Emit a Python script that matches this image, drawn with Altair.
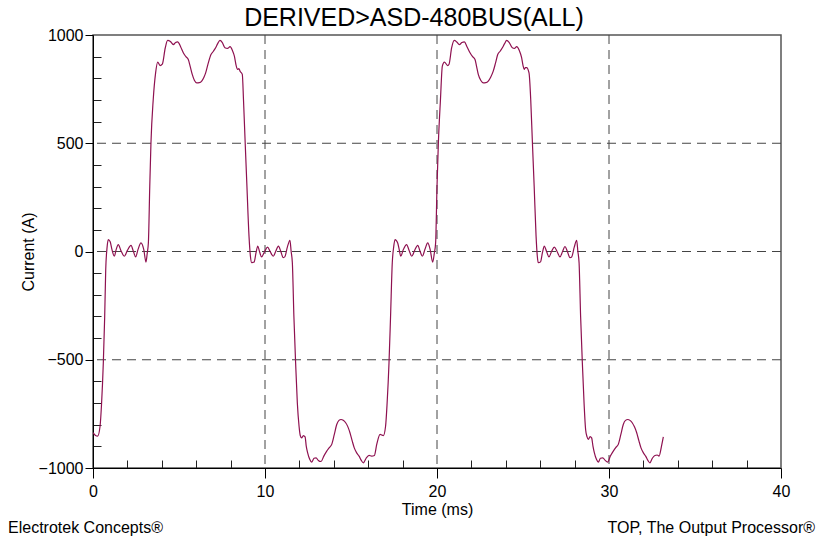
import altair as alt
import pandas as pd

# ---------------- data ----------------
t_ms = [
    0.0, 0.15, 0.27, 0.41, 0.5, 0.6, 0.68, 0.74, 0.82, 0.89, 1.0, 1.1, 1.24, 1.35, 1.47, 1.62,
    1.82, 2.0, 2.21, 2.35, 2.48, 2.62, 2.79, 2.95, 3.08, 3.15, 3.22, 3.3, 3.37, 3.5, 3.64, 3.76,
    3.9, 4.03, 4.2, 4.34, 4.5, 4.67, 4.8, 4.92, 5.1, 5.25, 5.4, 5.54, 5.65, 5.77, 5.9, 6.03,
    6.18, 6.32, 6.45, 6.55, 6.7, 6.86, 7.0, 7.13, 7.25, 7.38, 7.52, 7.67, 7.82, 7.97, 8.1, 8.22,
    8.32, 8.41, 8.48, 8.55, 8.68, 8.75, 8.84, 8.95, 9.07, 9.15, 9.23, 9.3, 9.37, 9.48, 9.58, 9.68,
    9.8, 9.98, 10.15, 10.3, 10.48, 10.62, 10.78, 10.92, 11.06, 11.15, 11.3, 11.45, 11.52, 11.59,
    11.68, 11.78, 11.88, 11.98, 12.05, 12.13, 12.23, 12.33, 12.4, 12.48, 12.6, 12.71, 12.85,
    12.97, 13.1, 13.26, 13.42, 13.59, 13.75, 13.88, 14.03, 14.17, 14.3, 14.42, 14.55, 14.69,
    14.82, 14.94, 15.07, 15.19, 15.33, 15.47, 15.6, 15.72, 15.88, 16.05, 16.2, 16.36, 16.5,
    16.69, 16.88, 17.01, 17.1, 17.21, 17.3, 17.4, 17.48, 17.56, 17.71, 17.8, 17.89, 18.05,
    18.23, 18.38, 18.53, 18.7, 18.88, 19.02, 19.15, 19.3, 19.46, 19.6, 19.75, 19.84, 19.92,
    20.0, 20.08, 20.2, 20.31, 20.43, 20.62, 20.7, 20.85, 21.0, 21.15, 21.3, 21.45, 21.59,
    21.75, 21.92, 22.07, 22.21, 22.3, 22.4, 22.55, 22.69, 22.84, 22.98, 23.12, 23.27, 23.4,
    23.53, 23.67, 23.8, 23.93, 24.05, 24.2, 24.38, 24.5, 24.63, 24.78, 24.92, 25.0, 25.07,
    25.14, 25.21, 25.35, 25.45, 25.54, 25.65, 25.76, 25.83, 25.89, 26.02, 26.13, 26.24, 26.37,
    26.51, 26.66, 26.82, 26.98, 27.15, 27.3, 27.44, 27.58, 27.73, 27.83, 27.98, 28.12, 28.19,
    28.26, 28.35, 28.45, 28.55, 28.64, 28.72, 28.8, 28.9, 28.99, 29.07, 29.15, 29.27, 29.38,
    29.5, 29.64, 29.78, 29.92, 30.08, 30.25, 30.4, 30.54, 30.69, 30.83, 30.96, 31.09, 31.22,
    31.35, 31.48, 31.61, 31.74, 31.86, 32.0, 32.13, 32.26, 32.38, 32.52, 32.67, 32.8, 32.91,
    33.05, 33.16,
]
current_a = [
    -837, -850, -853, -807, -700, -514, -300, -83, 20, 55, 45, 10, -22, 10, 32, 5,
    -22, 5, 28, 0, -25, 10, 40, 10, -49, -10, 40, 300, 502, 700, 825, 875,
    859, 865, 940, 975, 970, 956, 965, 968, 945, 918, 900, 887, 855, 818, 790, 779,
    780, 787, 805, 825, 870, 910, 925, 941, 960, 975, 965, 941, 938, 946, 930, 902,
    860, 841, 845, 833, 818, 700, 517, 300, 71, -20, -52, -50, -48, -5, 25, 0,
    -25, 0, 20, 0, -22, 0, 25, 0, -28, -25, 20, 52, 0, -52,
    -300, -514, -700, -807, -850, -861, -850, -856, -900, -930, -960, -973, -955,
    -953, -965, -970, -945, -922, -905, -891, -845, -799, -780, -776, -780, -791,
    -810, -837, -875, -907, -930, -945, -965, -976, -955, -942, -945, -942, -890,
    -845, -850, -807, -700, -514, -300, -52, 20, 55, 40, 10, -22, 10,
    32, 5, -22, 5, 28, 0, -22, 10, 40, 10, -49, -10, 40,
    300, 502, 700, 856, 875, 859, 865, 940, 975, 968, 956, 965, 968,
    945, 918, 900, 887, 855, 818, 790, 779, 780, 787, 805, 833, 870,
    910, 925, 941, 960, 975, 965, 941, 938, 946, 930, 895, 860, 841,
    849, 849, 825, 700, 517, 300, 71, -20, -52, -48, -5, 25, 0,
    -25, 0, 20, 0, -25, 0, 23, 0, -28, -25, 20, 52, 0,
    -52, -300, -514, -700, -822, -855, -868, -855, -861, -900, -930, -960, -973,
    -955, -953, -965, -973, -945, -922, -905, -891, -845, -799, -780, -776, -780,
    -791, -810, -837, -875, -907, -930, -945, -965, -976, -955, -942, -940, -945,
    -900, -856,
]

x_major = [0, 10, 20, 30, 40]
y_major = [-1000, -500, 0, 500, 1000]
x_grid = [10, 20, 30]
y_grid = [-500, 0, 500]
x_minor = [2, 4, 6, 8, 12, 14, 16, 18, 22, 24, 26, 28, 32, 34, 36, 38]
y_minor = [-900, -800, -700, -600, -400, -300, -200, -100,
           100, 200, 300, 400, 600, 700, 800, 900]

title_text = "DERIVED>ASD-480BUS(ALL)"
x_title = "Time (ms)"
y_title = "Current (A)"
footer_left = ["Electrotek Concepts®"]
footer_right = ["TOP, The Output Processor®"]

FONT = "Liberation Sans"
W, H = 688, 433

df = pd.DataFrame({"t": t_ms, "i": current_a})
xs = alt.Scale(domain=[0, 40], nice=False, zero=False)
ys = alt.Scale(domain=[-1000, 1000], nice=False, zero=False)

line = alt.Chart(df).mark_line(color="#8e1150", strokeWidth=1.2, interpolate="monotone", clip=True).encode(
    x=alt.X("t:Q", scale=xs, axis=alt.Axis(
        orient="bottom", values=x_major, tickSize=10, tickColor="black", domainColor="black",
        labelFontSize=16, labelFont=FONT, labelColor="black", labelPadding=5, labelFlush=False,
        title=x_title, titleFont=FONT, titleFontSize=16, titleFontWeight="normal",
        titleColor="black", titlePadding=2, grid=False, format="d")),
    y=alt.Y("i:Q", scale=ys, axis=alt.Axis(
        orient="left", values=y_major, tickSize=8, tickColor="black", domainColor="black",
        labelFontSize=16, labelFont=FONT, labelColor="black", labelPadding=2, labelFlush=False,
        title=y_title, titleFont=FONT, titleFontSize=16, titleFontWeight="normal",
        titleColor="black", titlePadding=2, grid=False, format="d")),
)

vgrid = alt.Chart(pd.DataFrame({"g": x_grid})).mark_rule(
    color="#444", strokeWidth=1, strokeDash=[9, 6]).encode(
    x=alt.X("g:Q", scale=xs, axis=alt.Axis(
        orient="top", offset=-H, values=x_minor, tickSize=8, tickColor="#222",
        labels=False, domain=False, grid=False, title=None)),
)

hgrid = alt.Chart(pd.DataFrame({"g": y_grid})).mark_rule(
    color="#444", strokeWidth=1, strokeDash=[9, 6]).encode(
    y=alt.Y("g:Q", scale=ys, axis=alt.Axis(
        orient="right", offset=-W, values=y_minor, tickSize=8, tickColor="#222",
        labels=False, domain=False, grid=False, title=None)),
)

foot_l = alt.Chart(pd.DataFrame({"s": footer_left})).mark_text(
    align="left", baseline="alphabetic", font=FONT, fontSize=16, color="black").encode(
    text="s:N", x=alt.value(-85), y=alt.value(H + 65))

foot_r = alt.Chart(pd.DataFrame({"s": footer_right})).mark_text(
    align="right", baseline="alphabetic", font=FONT, fontSize=16, color="black").encode(
    text="s:N", x=alt.value(W + 34), y=alt.value(H + 65))

chart = alt.layer(vgrid, hgrid, line, foot_l, foot_r).resolve_axis(
    x="independent", y="independent"
).properties(
    width=W, height=H,
    title=alt.TitleParams(title_text, font=FONT, fontSize=25, fontWeight="normal",
                          color="black", anchor="middle", dx=-23, dy=7, offset=3),
    autosize=alt.AutoSizeParams(type="none"),
    padding={"left": 93, "top": 35, "right": 47, "bottom": 69},
    background="white",
).configure_view(stroke="#555", strokeWidth=1.5)

chart.save("out.html", embed_options={"renderer": "svg", "actions": False})
